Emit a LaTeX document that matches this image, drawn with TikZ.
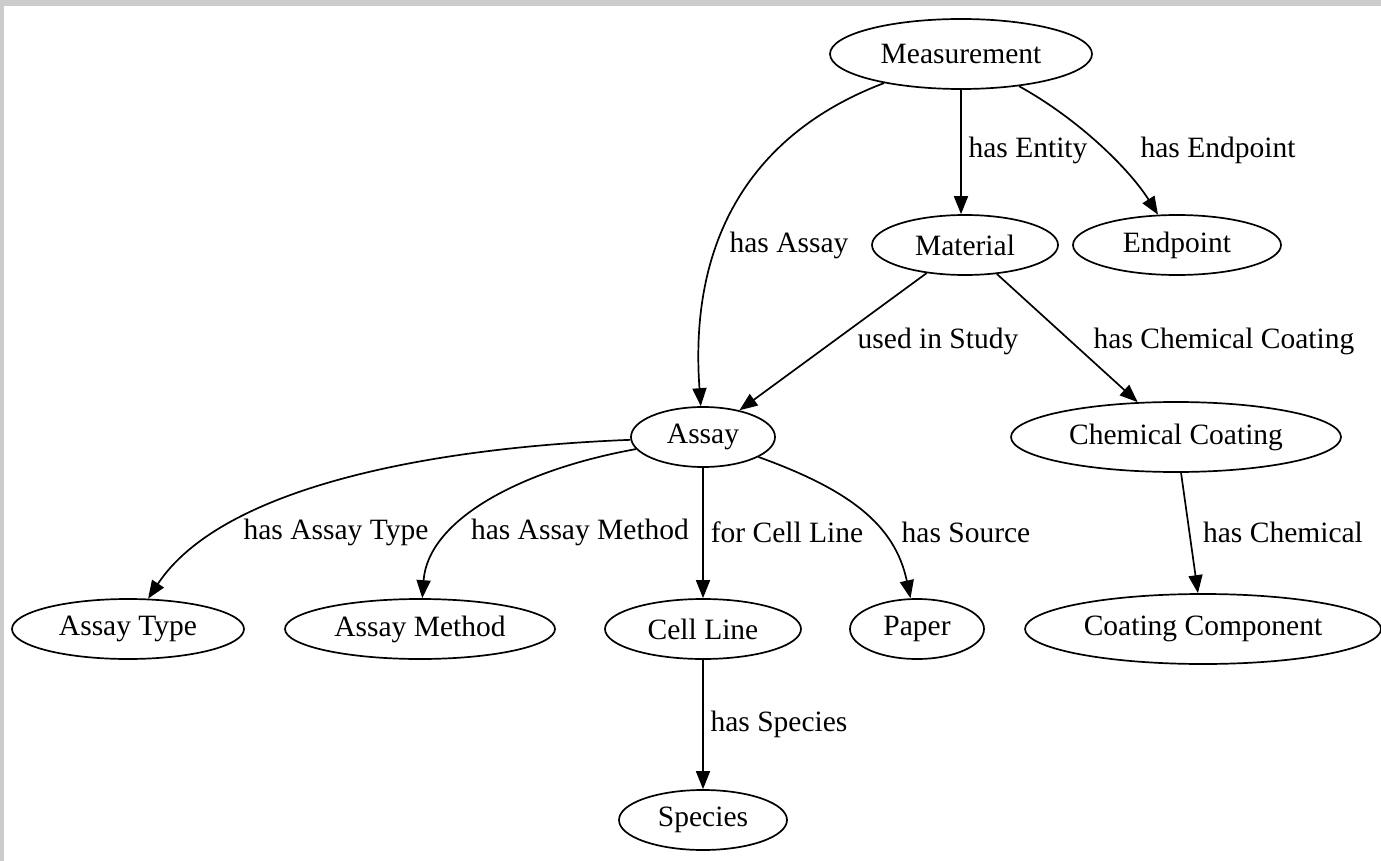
\documentclass[tikz,border=0pt]{standalone}
\usepackage{fontspec}
\setmainfont{Liberation Serif}
\usetikzlibrary{shapes.geometric,arrows.meta}
\begin{document}
\begin{tikzpicture}[x=1pt,y=-1pt,
  ent/.style={ellipse,draw,line width=1.7pt,inner sep=0pt,font=\fontsize{29.5}{33}\selectfont},
  lbl/.style={inner sep=0pt,font=\fontsize{29.5}{33}\selectfont},
  edge/.style={line width=1.7pt,-{Triangle[length=18pt,width=14pt]}}]
\useasboundingbox (0,0) rectangle (1381,861);
\fill[black!20] (0,0) rectangle (1381,861);
\fill[white] (4,6) rectangle (1381,861);
% nodes
\node[ent,minimum width=262pt,minimum height=70pt] (M) at (961,54) {Measurement};
\node[ent,minimum width=186pt,minimum height=60pt] (Mat) at (965,245) {Material};
\node[ent,minimum width=208pt,minimum height=60pt] (E) at (1177,245) {Endpoint};
\node[ent,minimum width=144pt,minimum height=60pt] (A) at (703,437) {Assay};
\node[ent,minimum width=330pt,minimum height=70pt] (CC) at (1176,437) {Chemical Coating};
\node[ent,minimum width=232pt,minimum height=60pt] (AT) at (128,629) {Assay Type};
\node[ent,minimum width=270pt,minimum height=60pt] (AM) at (420,629) {Assay Method};
\node[ent,minimum width=196pt,minimum height=60pt] (CL) at (703,629) {Cell Line};
\node[ent,minimum width=134pt,minimum height=60pt] (P) at (917,629) {Paper};
\node[ent,minimum width=356pt,minimum height=70pt] (CO) at (1203,629) {Coating Component};
\node[ent,minimum width=168pt,minimum height=60pt] (S) at (703,820) {Species};
% edges
\draw[edge] (M) .. controls (760,130) and (688,230) .. (A);
\draw[edge] (M.south) -- (M.south |- Mat.north);
\draw[edge] (M) .. controls (1080,120) and (1130,170) .. (E);
\draw[edge] (Mat) -- (A);
\draw[edge] (Mat) -- (CC);
\draw[edge] (A) .. controls (420,448) and (220,490) .. (AT);
\draw[edge] (A) .. controls (520,470) and (428,520) .. (AM);
\draw[edge] (A) -- (CL);
\draw[edge] (A) .. controls (850,490) and (895,525) .. (P);
\draw[edge] (CC) -- (CO);
\draw[edge] (CL) -- (S);
% labels
\node[lbl] (l1) at (789,245) {has Assay};
\node[lbl] (l2) at (1028,150) {has Entity};
\node[lbl] (l3) at (1218,150) {has Endpoint};
\node[lbl] (l4) at (938,341) {used in Study};
\node[lbl] (l5) at (1224,341) {has Chemical Coating};
\node[lbl] (l6) at (336,532) {has Assay Type};
\node[lbl] (l7) at (580,532) {has Assay Method};
\node[lbl] (l8) at (787,532) {for Cell Line};
\node[lbl] (l9) at (966,532) {has Source};
\node[lbl] (l10) at (1283,532) {has Chemical};
\node[lbl] (l11) at (779,724) {has Species};
\end{tikzpicture}
\end{document}
